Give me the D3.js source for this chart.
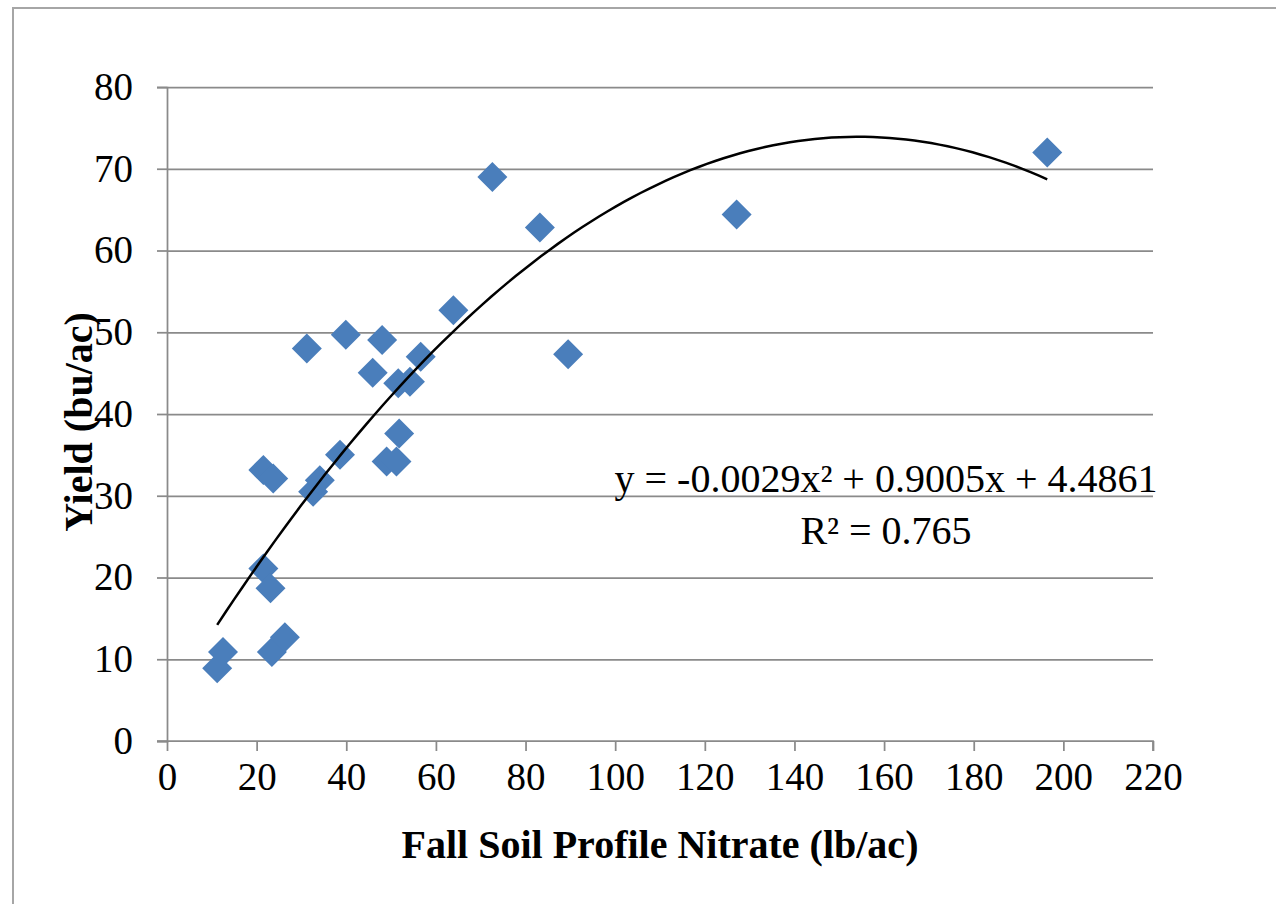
<!DOCTYPE html>
<html>
<head>
<meta charset="utf-8">
<script src="https://cdn.jsdelivr.net/npm/d3@7"></script>
<style>
  body { margin: 0; background: #fff; }
  text { font-family: "Liberation Serif", "Times New Roman", serif; fill: #000; }
</style>
</head>
<body>
<div id="chart"></div>
<script>
// fall soil nitrate (lb/ac) vs yield (bu/ac)
const nitrate = [11.2, 12.5, 23.4, 26.3, 21.5, 23.1, 21.5, 23.7, 32.6, 34.1, 38.6, 31.2, 39.9, 48.0,
    45.9, 56.6, 51.6, 54.2, 63.9, 51.8, 49.0, 51.2, 72.6, 83.2, 89.5, 127.1, 196.4];
const yieldVals = [8.9, 10.9, 10.9, 12.7, 21.1, 18.7, 33.15, 32.1, 30.5, 31.9, 35.0, 48.0, 49.7, 49.05,
    45.05, 47.0, 43.75, 43.95, 52.7, 37.6, 34.2, 34.2, 69.0, 62.8, 47.3, 64.4, 72.0];

// polynomial trendline (a, b, c); label shows a rounded to -0.0029
const trendCoef = [-0.00292, 0.9005, 4.4861];
const eqLabel = "y = -0.0029x² + 0.9005x + 4.4861";
const r2Label = "R² = 0.765";

const xTicks = [0, 20, 40, 60, 80, 100, 120, 140, 160, 180, 200, 220];
const yTicks = [0, 10, 20, 30, 40, 50, 60, 70, 80];

const W = 1276, H = 904;
const margin = { top: 87, right: 123, bottom: 163, left: 167 };

const svg = d3.select("#chart").append("svg")
    .attr("width", W)
    .attr("height", H);

// outer chart border (right / bottom run off the picture)
svg.append("rect")
    .attr("x", 13).attr("y", 8)
    .attr("width", W + 20).attr("height", H + 20)
    .attr("fill", "none")
    .attr("stroke", "#a6a6a6")
    .attr("stroke-width", 2);

const xScale = d3.scaleLinear().domain([0, 220]).range([margin.left, W - margin.right]);
const yScale = d3.scaleLinear().domain([0, 80]).range([H - margin.bottom, margin.top]);

const gridColor = "#8a8a8a";

// horizontal grid + left ticks
svg.append("g")
    .attr("transform", `translate(${margin.left},0)`)
    .call(d3.axisLeft(yScale).tickValues(yTicks).tickSize(10).tickPadding(24).tickFormat(d3.format("d")))
    .call(g => g.select(".domain").attr("stroke", gridColor).attr("stroke-width", 1.75))
    .call(g => g.selectAll(".tick line").attr("stroke", gridColor).attr("stroke-width", 1.75))
    .call(g => g.selectAll(".tick text").style("font-size", "39px").attr("fill", "#000"))
    .call(g => g.selectAll(".tick").filter(d => d > 0).append("line")
        .attr("x2", xScale(220) - margin.left)
        .attr("stroke", gridColor).attr("stroke-width", 1.75));

// x axis
svg.append("g")
    .attr("transform", `translate(0,${yScale(0)})`)
    .call(d3.axisBottom(xScale).tickValues(xTicks).tickSize(10).tickSizeOuter(10).tickPadding(11).tickFormat(d3.format("d")))
    .call(g => g.select(".domain").attr("stroke", gridColor).attr("stroke-width", 1.75)
        .attr("d", `M${xScale(0) - 10},0H${xScale(220)}V10`))
    .call(g => g.selectAll(".tick line").attr("stroke", gridColor).attr("stroke-width", 1.75))
    .call(g => g.selectAll(".tick text").style("font-size", "39px").attr("fill", "#000"));

// axis titles
svg.append("text")
    .attr("x", 660)
    .attr("y", 858)
    .attr("text-anchor", "middle")
    .style("font-size", "40px")
    .style("font-weight", "bold")
    .text("Fall Soil Profile Nitrate (lb/ac)");

svg.append("text")
    .attr("transform", "translate(92,422) rotate(-90)")
    .attr("text-anchor", "middle")
    .style("font-size", "40px")
    .style("font-weight", "bold")
    .text("Yield (bu/ac)");

// points
const data = nitrate.map((x, i) => ({ x: x, y: yieldVals[i] }));
const diamond = d3.symbol().type(d3.symbolSquare).size(450);

svg.append("g").selectAll("path")
    .data(data)
    .enter()
    .append("path")
    .attr("d", diamond)
    .attr("transform", d => `translate(${xScale(d.x)},${yScale(d.y)}) rotate(45)`)
    .attr("fill", "#4a7ebb");

// trendline over the data range
const xMin = d3.min(nitrate), xMax = d3.max(nitrate);
const trendPts = d3.range(0, 101).map(i => {
    const x = xMin + (xMax - xMin) * i / 100;
    return { x: x, y: trendCoef[0] * x * x + trendCoef[1] * x + trendCoef[2] };
});

svg.append("path")
    .datum(trendPts)
    .attr("fill", "none")
    .attr("stroke", "#000")
    .attr("stroke-width", 2.5)
    .attr("d", d3.line().x(d => xScale(d.x)).y(d => yScale(d.y)));

// equation labels
svg.append("text")
    .attr("x", 886).attr("y", 492)
    .attr("text-anchor", "middle")
    .style("font-size", "40px")
    .text(eqLabel);

svg.append("text")
    .attr("x", 886).attr("y", 544)
    .attr("text-anchor", "middle")
    .style("font-size", "40px")
    .text(r2Label);
</script>
</body>
</html>
